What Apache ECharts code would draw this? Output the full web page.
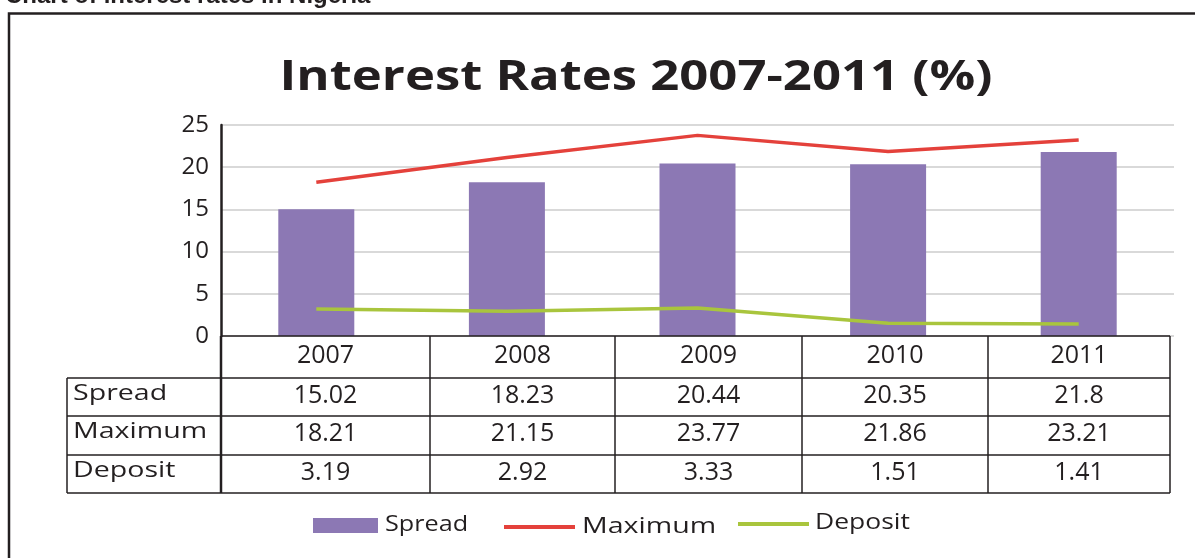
<!DOCTYPE html>
<html>
<head>
<meta charset="utf-8">
<style>
  html, body { margin: 0; padding: 0; background: #ffffff; }
  #chart { width: 1195px; height: 558px; }
</style>
<script src="https://cdn.jsdelivr.net/npm/echarts@6/dist/echarts.min.js"></script>
</head>
<body>
<div id="chart"></div>
<script>
// Interest rates in Nigeria, 2007-2011 (%)
const categories = ['2007', '2008', '2009', '2010', '2011'];
const seriesNames = ['Spread', 'Maximum', 'Deposit'];
const spread  = [15.02, 18.23, 20.44, 20.35, 21.8];
const maximum = [18.21, 21.15, 23.77, 21.86, 23.21];
const deposit = [3.19, 2.92, 3.33, 1.51, 1.41];

const colors = { spread: '#8c78b4', maximum: '#e4413b', deposit: '#a9c53d' };
const ink = '#231f20';

// data table layout (pixels)
const colEdges = [221, 430, 615, 802, 988, 1170];
const rowEdges = [336, 378, 416, 455, 493];
const labelLeft = 67;

const chart = echarts.init(document.getElementById('chart'), null, { renderer: 'canvas' });

function hLine(x1, x2, y, w) {
  return { type: 'line', shape: { x1: x1, y1: y, x2: x2, y2: y },
           style: { stroke: ink, lineWidth: w || 1.5 }, z: 20 };
}
function vLine(x, y1, y2, w) {
  return { type: 'line', shape: { x1: x, y1: y1, x2: x, y2: y2 },
           style: { stroke: ink, lineWidth: w || 1.5 }, z: 20 };
}
function text(str, x, y, opts) {
  opts = opts || {};
  return {
    type: 'text', x: x, y: y, z: 21,
    scaleX: opts.scaleX || 1, originX: 0,
    style: {
      text: str,
      fill: ink,
      font: (opts.weight || 'normal') + ' ' + (opts.size || 25) + 'px ' + (opts.family || '"Open Sans"'),
      textAlign: opts.align || 'center',
      textVerticalAlign: 'middle'
    }
  };
}

const graphics = [];

// frame around the chart
graphics.push({ type: 'polyline', shape: { points: [[9, 560], [9, 13.5], [1197, 13.5]] },
                style: { stroke: ink, lineWidth: 2.5, fill: null }, z: 20 });
// caption above the frame
graphics.push(text('Chart of interest rates in Nigeria', 5, -3.5,
  { align: 'left', weight: 'bold', size: 24, family: '"Liberation Sans", Arial, sans-serif' }));
// chart title
graphics.push(text('Interest Rates 2007-2011 (%)', 636, 78.5, { weight: 'bold', size: 42, scaleX: 1.21 }));

// table grid
graphics.push(hLine(colEdges[0], colEdges[colEdges.length - 1], rowEdges[0]));
for (let r = 1; r < rowEdges.length; r++) {
  graphics.push(hLine(labelLeft, colEdges[colEdges.length - 1], rowEdges[r]));
}
graphics.push(vLine(labelLeft, rowEdges[1], rowEdges[rowEdges.length - 1]));
graphics.push(vLine(colEdges[0], rowEdges[0], rowEdges[rowEdges.length - 1], 2.5));
for (let c = 1; c < colEdges.length; c++) {
  graphics.push(vLine(colEdges[c], rowEdges[0], rowEdges[rowEdges.length - 1]));
}

// table contents
const rows = [spread, maximum, deposit];
categories.forEach(function (cat, c) {
  const cx = (colEdges[c] + colEdges[c + 1]) / 2;
  graphics.push(text(cat, cx, (rowEdges[0] + rowEdges[1]) / 2 - 1.5));
  rows.forEach(function (vals, r) {
    graphics.push(text(String(vals[c]), cx, (rowEdges[r + 1] + rowEdges[r + 2]) / 2 - 1.5));
  });
});
seriesNames.forEach(function (name, r) {
  graphics.push(text(name, labelLeft + 6, (rowEdges[r + 1] + rowEdges[r + 2]) / 2 - 3,
    { align: 'left', size: 21, scaleX: 1.36 }));
});

// legend
graphics.push({ type: 'rect', shape: { x: 313, y: 518, width: 65, height: 15 },
                style: { fill: colors.spread }, z: 20 });
graphics.push(text(seriesNames[0], 385, 525, { align: 'left', size: 21, scaleX: 1.2 }));
graphics.push({ type: 'line', shape: { x1: 504, y1: 527, x2: 575, y2: 527 },
                style: { stroke: colors.maximum, lineWidth: 4 }, z: 20 });
graphics.push(text(seriesNames[1], 582, 527, { align: 'left', size: 21, scaleX: 1.36 }));
graphics.push({ type: 'line', shape: { x1: 738, y1: 524, x2: 809, y2: 524 },
                style: { stroke: colors.deposit, lineWidth: 4 }, z: 20 });
graphics.push(text(seriesNames[2], 815, 523, { align: 'left', size: 21, scaleX: 1.26 }));

const option = {
  animation: false,
  backgroundColor: '#ffffff',
  grid: { left: 221, right: 21, top: 125, bottom: 222 },
  xAxis: {
    type: 'category',
    data: categories,
    axisLine: { show: false },
    axisTick: { show: false },
    axisLabel: { show: false }
  },
  yAxis: {
    type: 'value',
    min: 0, max: 25, interval: 5,
    axisLine: { show: true, lineStyle: { color: ink, width: 2.5 } },
    axisTick: { show: false },
    axisLabel: { fontFamily: 'Open Sans', fontSize: 24, color: ink, margin: 12 },
    splitLine: { lineStyle: { color: '#d9d9d9', width: 2 } }
  },
  series: [
    { name: seriesNames[0], type: 'bar', data: spread, barWidth: 76,
      itemStyle: { color: colors.spread } },
    { name: seriesNames[1], type: 'line', data: maximum, symbol: 'none',
      lineStyle: { color: colors.maximum, width: 3.5 }, itemStyle: { color: colors.maximum } },
    { name: seriesNames[2], type: 'line', data: deposit, symbol: 'none',
      lineStyle: { color: colors.deposit, width: 3.5 }, itemStyle: { color: colors.deposit } }
  ],
  graphic: graphics
};

chart.setOption(option);
</script>
</body>
</html>
